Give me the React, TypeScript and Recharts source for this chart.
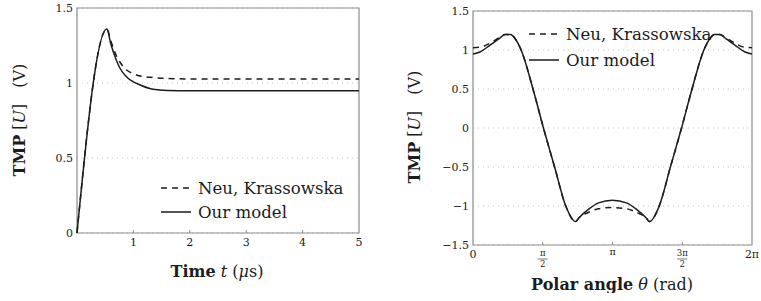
import React from "react";
import { LineChart, Line, XAxis, YAxis, CartesianGrid, ReferenceArea, Legend } from "recharts";

// Left panel: TMP against time (µs)
const timeUs = [0, 0.53, 0.6, 0.7, 0.76, 0.88, 1.0, 1.12, 1.35, 1.6, 2, 3, 4, 5];
const tmpNeuTime = [0, 1.36, 1.28, 1.18, 1.14, 1.087, 1.062, 1.047, 1.036, 1.03, 1.027, 1.027, 1.027, 1.027];
const tmpOurTime = [0, 1.36, 1.26, 1.15, 1.1, 1.04, 1.008, 0.987, 0.958, 0.95, 0.948, 0.948, 0.948, 0.948];
const timeTicks = [1, 2, 3, 4, 5];
const tmpTicksTime = [0, 0.5, 1, 1.5];

// Right panel: TMP against polar angle, x in units of pi
const anglePi = [
  0, 0.05, 0.12, 0.19, 0.23, 0.27, 0.3, 0.345, 0.43, 0.505, 0.585, 0.665, 0.735, 0.76, 0.83, 0.9, 1.0,
  1.1, 1.17, 1.24, 1.265, 1.335, 1.415, 1.495, 1.57, 1.655, 1.7, 1.73, 1.77, 1.81, 1.88, 1.95, 2.0,
];
const tmpNeuAngle = [
  1.03, 1.035, 1.085, 1.16, 1.2, 1.2, 1.15, 1.0, 0.5, 0, -0.5, -1.0, -1.2, -1.15, -1.08, -1.035, -1.02,
  -1.035, -1.08, -1.15, -1.2, -1.0, -0.5, 0, 0.5, 1.0, 1.15, 1.2, 1.2, 1.16, 1.085, 1.035, 1.03,
];
const tmpOurAngle = [
  0.95, 0.975, 1.06, 1.15, 1.2, 1.2, 1.15, 1.0, 0.5, 0, -0.5, -1.0, -1.2, -1.15, -1.04, -0.96, -0.925,
  -0.96, -1.04, -1.15, -1.2, -1.0, -0.5, 0, 0.5, 1.0, 1.15, 1.2, 1.2, 1.15, 1.06, 0.975, 0.95,
];
const angleTicks = [0, 0.5, 1, 1.5, 2];
const angleTickTop = ["0", "π", "π", "3π", "2π"];
const angleTickBottom = ["", "2", "", "2", ""];
const tmpTicksAngle = [-1.5, -1, -0.5, 0, 0.5, 1, 1.5];

const seriesNames = ["Neu, Krassowska", "Our model"];

const timeData = timeUs.map((t, i) => ({ t, neu: tmpNeuTime[i], our: tmpOurTime[i] }));
const angleData = anglePi.map((a, i) => ({ a, neu: tmpNeuAngle[i], our: tmpOurAngle[i] }));

const FONT = "'DejaVu Serif', serif";
const INK = "#1c1c1c";
const FRAME = "#8c8c8c";
const TICK_MARGIN = 5;

const fmtMinus = (v: number) => String(v).replace("-", "\u2212");

function TimeTick({ x, y, payload }: any) {
  const axisY = y - TICK_MARGIN;
  return (
    <g>
      {payload.value < 5 && <line x1={x} x2={x} y1={axisY} y2={axisY - 3} stroke={FRAME} />}
      <text x={x} y={y} dy="0.75em" textAnchor="middle" fontSize={11} fontFamily={FONT} fill={INK}>
        {payload.value}
      </text>
    </g>
  );
}

// y tick drawn by hand so the top label is never pushed around
function ValueTick({ x, y, payload }: any) {
  return (
    <text x={x} y={y} dy="0.36em" textAnchor="end" fontSize={11} fontFamily={FONT} fill={INK}>
      {fmtMinus(payload.value)}
    </text>
  );
}

function AngleTick({ x, y, payload }: any) {
  const i = angleTicks.indexOf(payload.value);
  const top = angleTickTop[i];
  const bottom = angleTickBottom[i];
  const axisY = y - TICK_MARGIN;
  return (
    <g>
      {i > 0 && i < angleTicks.length - 1 && (
        <line x1={x} x2={x} y1={axisY} y2={axisY - 3} stroke={FRAME} />
      )}
      {bottom ? (
        <g fontFamily={FONT} fill={INK} textAnchor="middle">
          <text x={x} y={y + 6} fontSize={8.5}>{top}</text>
          <line x1={x - 5} x2={x + 5} y1={y + 9} y2={y + 9} stroke={INK} strokeWidth={0.6} />
          <text x={x} y={y + 17} fontSize={8.5}>{bottom}</text>
        </g>
      ) : (
        <text
          x={x}
          y={y}
          dy={i === 2 ? "0.55em" : "0.75em"}
          textAnchor="middle"
          fontSize={i === 2 ? 9.5 : 11}
          fontFamily={FONT}
          fill={INK}
        >
          {top}
        </text>
      )}
    </g>
  );
}

function legendContent(rowHeight: number) {
  return (props: any) => (
    <div>
      {(props.payload || []).map((entry: any, i: number) => (
        <div key={i} style={{ display: "flex", alignItems: "center", height: rowHeight }}>
          <svg width={30} height={4}>
            <line
              x1={0}
              x2={30}
              y1={2}
              y2={2}
              stroke={INK}
              strokeWidth={1.5}
              strokeDasharray={entry.payload?.strokeDasharray}
            />
          </svg>
          <span style={{ marginLeft: 7, fontSize: 16.6, fontFamily: FONT, color: INK, whiteSpace: "nowrap" }}>
            {entry.value}
          </span>
        </div>
      ))}
    </div>
  );
}

export default function App() {
  return (
    <div style={{ position: "absolute", left: 0, top: 0, width: 761, height: 301, background: "#fff", overflow: "hidden" }}>
      <div style={{ position: "absolute", left: 0, top: 0 }}>
        <LineChart width={380} height={301} data={timeData} margin={{ top: 8, right: 21, bottom: 28, left: 27 }}>
          <CartesianGrid vertical={false} stroke="#c4c4c4" strokeDasharray="1 4" />
          <XAxis
            type="number"
            dataKey="t"
            domain={[0, 5]}
            ticks={timeTicks}
            height={40}
            axisLine={false}
            tickLine={false}
            tickSize={0}
            tickMargin={TICK_MARGIN}
            tick={<TimeTick />}
            interval={0}
          />
          <YAxis
            type="number"
            domain={[0, 1.5]}
            ticks={tmpTicksTime}
            width={50}
            axisLine={false}
            tickLine={false}
            tickSize={0}
            tickMargin={4}
            interval={0}
            tick={<ValueTick />}
          />
          <ReferenceArea x1={0} x2={5} y1={0} y2={1.5} fill="none" stroke={FRAME} strokeWidth={1.2} />
          <Line
            type="monotone"
            dataKey="neu"
            name={seriesNames[0]}
            stroke={INK}
            strokeWidth={1.5}
            strokeDasharray="6 5"
            dot={false}
            isAnimationActive={false}
          />
          <Line
            type="monotone"
            dataKey="our"
            name={seriesNames[1]}
            stroke={INK}
            strokeWidth={1.5}
            dot={false}
            isAnimationActive={false}
          />
          <Legend
            layout="vertical"
            verticalAlign="middle"
            align="center"
            content={legendContent(24)}
            wrapperStyle={{ left: 161, top: 176, width: 210 }}
          />
        </LineChart>
      </div>

      <div style={{ position: "absolute", left: 380, top: 0 }}>
        <LineChart width={381} height={301} data={angleData} margin={{ top: 11, right: 9, bottom: 16, left: 43 }}>
          <CartesianGrid vertical={false} stroke="#c4c4c4" strokeDasharray="1 4" />
          <XAxis
            type="number"
            dataKey="a"
            domain={[0, 2]}
            ticks={angleTicks}
            height={40}
            axisLine={false}
            tickLine={false}
            tickSize={0}
            tickMargin={TICK_MARGIN}
            tick={<AngleTick />}
            interval={0}
          />
          <YAxis
            type="number"
            domain={[-1.5, 1.5]}
            ticks={tmpTicksAngle}
            width={50}
            axisLine={false}
            tickLine={false}
            tickSize={0}
            tickMargin={4}
            interval={0}
            tick={<ValueTick />}
          />
          <ReferenceArea x1={0} x2={2} y1={-1.5} y2={1.5} fill="none" stroke={FRAME} strokeWidth={1.2} />
          <Line
            type="monotone"
            dataKey="neu"
            name={seriesNames[0]}
            stroke={INK}
            strokeWidth={1.5}
            strokeDasharray="6 5"
            dot={false}
            isAnimationActive={false}
          />
          <Line
            type="monotone"
            dataKey="our"
            name={seriesNames[1]}
            stroke={INK}
            strokeWidth={1.5}
            dot={false}
            isAnimationActive={false}
          />
          <Legend
            layout="vertical"
            verticalAlign="middle"
            align="center"
            content={legendContent(26)}
            wrapperStyle={{ left: 149, top: 21, width: 230 }}
          />
        </LineChart>
      </div>

      <svg
        width={761}
        height={293}
        style={{ position: "absolute", left: 0, top: 0, pointerEvents: "none" }}
        fontFamily={FONT}
        fill={INK}
      >
        <text transform="translate(25,120) rotate(-90)" textAnchor="middle" fontSize={16}>
          <tspan fontWeight="bold">TMP</tspan> [<tspan fontStyle="italic">U</tspan>]
          <tspan dx={16}>(V)</tspan>
        </text>
        <text transform="translate(420,127) rotate(-90)" textAnchor="middle" fontSize={16}>
          <tspan fontWeight="bold">TMP</tspan> [<tspan fontStyle="italic">U</tspan>]
          <tspan dx={16}>(V)</tspan>
        </text>
        <text x={217} y={277} textAnchor="middle" fontSize={16}>
          <tspan fontWeight="bold">Time</tspan> <tspan fontStyle="italic">t</tspan> (<tspan fontStyle="italic">μ</tspan>s)
        </text>
        <text x={612} y={290} textAnchor="middle" fontSize={16}>
          <tspan fontWeight="bold">Polar angle</tspan> <tspan fontStyle="italic">θ</tspan> (rad)
        </text>
      </svg>
    </div>
  );
}
